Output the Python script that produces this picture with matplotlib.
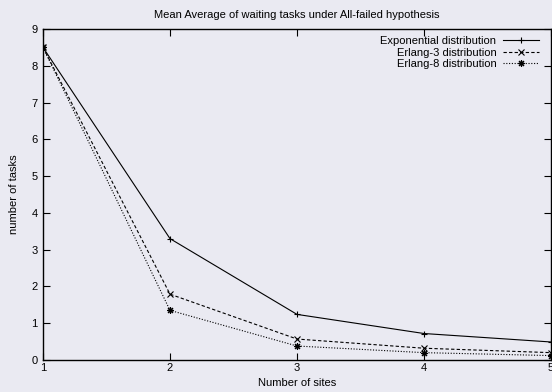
import matplotlib
matplotlib.use("Agg")
import matplotlib.pyplot as plt

sites = [1, 2, 3, 4, 5]
exponential = [8.5, 3.3, 1.24, 0.72, 0.49]
erlang3 = [8.5, 1.79, 0.57, 0.32, 0.20]
erlang8 = [8.5, 1.35, 0.38, 0.20, 0.12]
labels = ["Exponential distribution", "Erlang-3 distribution", "Erlang-8 distribution"]

plt.rcParams['font.family'] = ['Liberation Sans', 'DejaVu Sans']
bg = '#eaeaf2'
fs = 8
fig = plt.figure(figsize=(5.52, 3.92), dpi=100, facecolor=bg)
ax = fig.add_axes([43/552, 32/392, 508/552, 331/392])
ax.set_facecolor(bg)

ax.plot(sites, exponential, color='black', lw=0.8, ls='-', marker='+', ms=5, mew=0.8, label=labels[0])
ax.plot(sites, erlang3, color='black', lw=0.8, ls=(0, (3, 2)), marker='x', ms=4, mew=0.8, label=labels[1])
ax.plot(sites, erlang8, color='black', lw=0.8, ls=(0, (1, 1.5)), marker=(8, 2, 0), ms=5, mew=0.8, label=labels[2])

ax.set_xlim(1, 5)
ax.set_ylim(0, 9)
ax.set_xticks([1, 2, 3, 4, 5])
ax.set_yticks(range(0, 10))
ax.tick_params(direction='in', top=True, right=True, labelsize=fs, length=5, width=0.8)
ax.tick_params(axis='x', pad=2.5)
ax.tick_params(axis='y', pad=4)
for s in ax.spines.values():
    s.set_linewidth(1.0)

ax.set_title("Mean Average of waiting tasks under All-failed hypothesis", fontsize=fs, pad=8)
ax.set_xlabel("Number of sites", fontsize=fs, labelpad=3.5)
ax.set_ylabel("number of tasks", fontsize=fs, labelpad=9)

leg = ax.legend(loc='upper right', bbox_to_anchor=(0.99, 1.0), frameon=False, fontsize=fs,
                markerfirst=False, handlelength=3.2, handletextpad=0.6, labelspacing=0.14,
                borderaxespad=0.25)
for t in leg.get_texts():
    t.set_ha('right')
leg._legend_box.align = 'right'

fig.savefig("out.png", dpi=100, facecolor=bg)
